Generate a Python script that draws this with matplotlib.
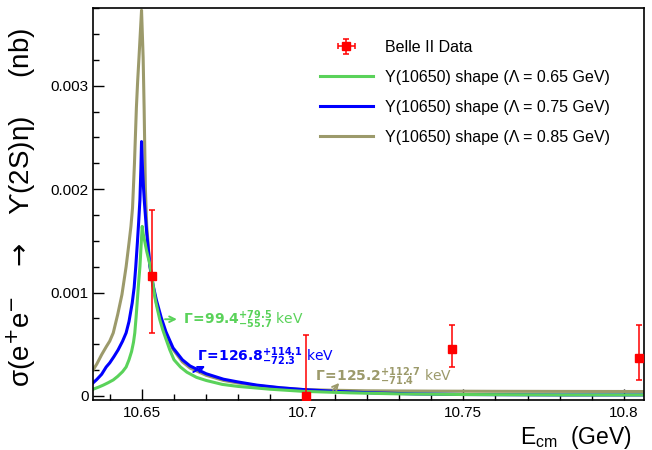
import matplotlib
matplotlib.use('Agg')
import matplotlib.pyplot as plt
from matplotlib.ticker import MultipleLocator, FixedLocator, FuncFormatter
from matplotlib.legend_handler import HandlerErrorbar
from matplotlib.container import ErrorbarContainer

plt.rcParams['font.family'] = ['Liberation Sans', 'DejaVu Sans']
plt.rcParams['mathtext.fontset'] = 'custom'
plt.rcParams['mathtext.rm'] = 'Liberation Sans'
plt.rcParams['mathtext.it'] = 'Liberation Sans:italic'
plt.rcParams['mathtext.bf'] = 'Liberation Sans:bold'

# ---------------- data ----------------
data_E = [10.6533, 10.7010, 10.7466, 10.8047]
data_sigma = [0.001165, 0.0, 0.000458, 0.000368]
data_err_lo = [0.000558, 0.0, 0.000178, 0.000213]
data_err_hi = [0.000635, 0.000590, 0.000232, 0.000319]
data_xerr = [0.0, 0.0, 0.0, 0.0]

# Lambda = 0.65 GeV (green)
g_E = [10.6348, 10.6365, 10.6380, 10.6395, 10.6411, 10.6425, 10.6440, 10.6451,
       10.6460, 10.6468, 10.6474, 10.6478, 10.6482, 10.6486, 10.6490, 10.6494,
       10.6497, 10.6501, 10.6504, 10.6515, 10.6525, 10.6531, 10.6536, 10.6542,
       10.6549, 10.6556, 10.6565, 10.6575, 10.6587, 10.6600, 10.6620, 10.6640,
       10.6670, 10.6700, 10.6750, 10.6800, 10.6900, 10.7000, 10.7150, 10.7300,
       10.7500, 10.7800, 10.8062]
g_sig = [0.000065, 0.000085, 0.000105, 0.000128, 0.000155, 0.000190, 0.000235, 0.000280,
         0.000350, 0.000430, 0.000520, 0.000610, 0.000760, 0.000930, 0.001100, 0.001250,
         0.001420, 0.001640, 0.001570, 0.001400, 0.001270, 0.001160, 0.001050, 0.000930,
         0.000830, 0.000736, 0.000640, 0.000550, 0.000445, 0.000350, 0.000280, 0.000230,
         0.000180, 0.000150, 0.000112, 0.000092, 0.000065, 0.000045, 0.000030, 0.000020,
         0.000014, 0.000010, 0.000010]

# Lambda = 0.75 GeV (blue)
b_E = [10.6348, 10.6360, 10.6375, 10.6389, 10.6400, 10.6413, 10.6426, 10.6440,
       10.6451, 10.6460, 10.6470, 10.6476, 10.6481, 10.6486, 10.6490, 10.6494,
       10.6497, 10.6499, 10.6502, 10.6505, 10.6508, 10.6515, 10.6525, 10.6535,
       10.6545, 10.6560, 10.6575, 10.6597, 10.6626, 10.6650, 10.6700, 10.6754,
       10.6800, 10.6858, 10.6930, 10.7002, 10.7100, 10.7200, 10.7350, 10.7500,
       10.7800, 10.8062]
b_sig = [0.000126, 0.000160, 0.000210, 0.000280, 0.000320, 0.000380, 0.000445, 0.000530,
         0.000610, 0.000720, 0.000900, 0.001050, 0.001250, 0.001480, 0.001680, 0.001900,
         0.002200, 0.002460, 0.002200, 0.002020, 0.001870, 0.001580, 0.001260, 0.001070,
         0.000930, 0.000760, 0.000620, 0.000465, 0.000350, 0.000290, 0.000215, 0.000162,
         0.000135, 0.000105, 0.000080, 0.000062, 0.000045, 0.000032, 0.000020, 0.000014,
         0.000010, 0.000010]

# Lambda = 0.85 GeV (olive)
o_E = [10.6348, 10.6360, 10.6375, 10.6390, 10.6400, 10.6411, 10.6425, 10.6438,
       10.6451, 10.6460, 10.6466, 10.6471, 10.6477, 10.6483, 10.6487, 10.6491,
       10.6495, 10.6499, 10.6504, 10.6507, 10.6511, 10.6515, 10.6525, 10.6535,
       10.6545, 10.6560, 10.6575, 10.6597, 10.6626, 10.6650, 10.6700, 10.6754,
       10.6800, 10.6858, 10.6930, 10.7002, 10.7100, 10.7200, 10.7400, 10.7600,
       10.7800, 10.8062]
o_sig = [0.000250, 0.000310, 0.000400, 0.000480, 0.000530, 0.000610, 0.000790, 0.000980,
         0.001250, 0.001480, 0.001640, 0.001820, 0.002250, 0.002790, 0.003050, 0.003270,
         0.003500, 0.003730, 0.003270, 0.002790, 0.002000, 0.001650, 0.001250, 0.001050,
         0.000900, 0.000730, 0.000600, 0.000450, 0.000330, 0.000270, 0.000200, 0.000150,
         0.000125, 0.000100, 0.000078, 0.000062, 0.000055, 0.000050, 0.000047, 0.000045,
         0.000044, 0.000043]

labels = ['Belle II Data',
          'Υ(10650) shape (Λ = 0.65 GeV)',
          'Υ(10650) shape (Λ = 0.75 GeV)',
          'Υ(10650) shape (Λ = 0.85 GeV)']
x_ticks = [10.65, 10.7, 10.75, 10.8]

c_green = '#5ad25a'
c_blue = '#0000ff'
c_olive = '#9c9a6b'
c_red = '#ff0000'

# ---------------- figure ----------------
fig = plt.figure(figsize=(6.52, 4.5), dpi=100)
ax = fig.add_axes([93 / 652, 1 - 400 / 450, 551 / 652, 392 / 450])

lw = 2.2
l_o, = ax.plot(o_E, o_sig, color=c_olive, lw=lw, zorder=2, label=labels[3])
l_b, = ax.plot(b_E, b_sig, color=c_blue, lw=lw, zorder=2.1, label=labels[2])
l_g, = ax.plot(g_E, g_sig, color=c_green, lw=lw, zorder=2.2, label=labels[1])

eb = ax.errorbar(data_E, data_sigma, yerr=[data_err_lo, data_err_hi], xerr=data_xerr,
                 fmt='s', color=c_red, ms=6, elinewidth=1.1, capsize=2.5,
                 capthick=1.1, zorder=3, label=labels[0])

ax.set_xlim(10.6348, 10.8062)
ax.set_ylim(-0.000039, 0.003752)

ax.xaxis.set_major_locator(FixedLocator(x_ticks))
ax.xaxis.set_minor_locator(MultipleLocator(0.01))
ax.yaxis.set_major_locator(MultipleLocator(0.001))
ax.yaxis.set_minor_locator(MultipleLocator(0.00025))
fmt = FuncFormatter(lambda v, p: '{:g}'.format(round(v, 6)))
ax.xaxis.set_major_formatter(fmt)
ax.yaxis.set_major_formatter(fmt)
ax.tick_params(which='both', direction='in', top=False, right=False, labelsize=11)
ax.tick_params(which='major', length=8, width=1.0)
ax.tick_params(which='minor', length=4, width=1.0)
ax.tick_params(axis='x', pad=4)
ax.tick_params(axis='y', pad=3)
for s in ax.spines.values():
    s.set_linewidth(1.2)

ax.set_ylabel('σ(e$^{+}$e$^{-}$   $\\rightarrow$   ϒ(2S)η)     (nb)', fontsize=20,
              math_fontfamily='dejavusans')
ax.yaxis.set_label_coords(-0.100, 0.49)
ax.set_xlabel('E$_{\\rm cm}$  (GeV)', fontsize=16.5, loc='right')
ax.xaxis.set_label_coords(0.978, -0.062)

# legend
handles = [eb, l_g, l_b, l_o]
fig.legend(handles, labels, loc='upper left', bbox_to_anchor=(320 / 652, 1 - 40 / 450),
           bbox_transform=fig.transFigure, frameon=False, fontsize=11.5,
           handlelength=3.3, handletextpad=0.75, labelspacing=0.93, borderpad=0,
           borderaxespad=0,
           handler_map={ErrorbarContainer: HandlerErrorbar(xerr_size=0.55, yerr_size=0.45)})

# annotations
kw = dict(fontsize=10, va='center', ha='left', family='DejaVu Sans',
          math_fontfamily='dejavusans')
ax.text(10.6629, 0.000742, r'$\mathbf{\Gamma\!=\!99.4^{+79.5}_{-55.7}}$ keV', color=c_green, **kw)
ax.annotate('', xy=(10.6609, 0.000742), xytext=(10.6572, 0.000742),
            arrowprops=dict(arrowstyle='->', color=c_green, lw=1.4, shrinkA=0, shrinkB=0))
ax.text(10.6673, 0.00038, r'$\mathbf{\Gamma\!=\!126.8^{+114.1}_{-72.3}}$ keV', color=c_blue, **kw)
ax.annotate('', xy=(10.6697, 0.00029), xytext=(10.6660, 0.000232),
            arrowprops=dict(arrowstyle='->', color=c_blue, lw=1.4, shrinkA=0, shrinkB=0))
ax.text(10.7039, 0.000184, r'$\mathbf{\Gamma\!=\!125.2^{+112.7}_{-71.4}}$ keV', color=c_olive, **kw)
ax.annotate('', xy=(10.7114, 0.000126), xytext=(10.7095, 0.000058),
            arrowprops=dict(arrowstyle='->', color=c_olive, lw=1.4, shrinkA=0, shrinkB=0))

fig.savefig('out.png', dpi=100)
